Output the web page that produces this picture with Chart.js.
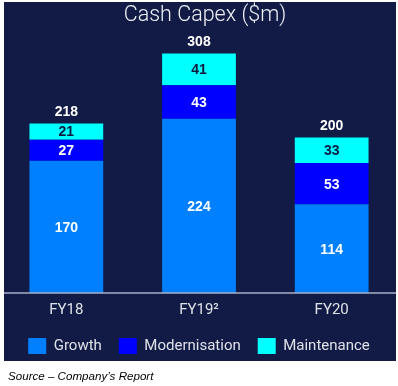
<!DOCTYPE html>
<html>
<head>
<meta charset="utf-8">
<script src="https://cdn.jsdelivr.net/npm/chart.js@4.4.1/dist/chart.umd.min.js"></script>
<style>
  html, body { margin: 0; padding: 0; background: #ffffff; }
  #wrap { position: absolute; left: 0; top: 0; width: 398px; height: 386px; }
  #source { position: absolute; left: 8px; top: 369px; font-family: "Liberation Sans", Arial, sans-serif; font-style: italic; font-size: 11.6px; color: #000; white-space: nowrap; }
</style>
</head>
<body>
<div id="wrap"><canvas id="c" width="398" height="386"></canvas></div>
<div id="source">Source – Company’s Report</div>
<script>
const categories = ["FY18", "FY19²", "FY20"];
const growth = [170, 224, 114];
const modernisation = [27, 43, 53];
const maintenance = [21, 41, 33];
const totals = [218, 308, 200];
const seriesNames = ["Growth", "Modernisation", "Maintenance"];
const titleText = "Cash Capex ($m)";

const NAVY = "#111b45";

const panelPlugin = {
  id: "panel",
  beforeDraw(chart) {
    const ctx = chart.ctx;
    ctx.save();
    ctx.fillStyle = "#ffffff";
    ctx.fillRect(0, 0, chart.width, chart.height);
    ctx.fillStyle = NAVY;
    ctx.fillRect(4, 2, 392, 359);
    ctx.fillStyle = "#eef0f6";
    ctx.font = "300 21.5px Roboto, 'Noto Sans', sans-serif";
    ctx.textAlign = "center";
    ctx.textBaseline = "middle";
    ctx.fillText(titleText, 205, 16);
    ctx.restore();
  },
  afterDatasetsDraw(chart) {
    const ctx = chart.ctx;
    const y0 = chart.scales.y.getPixelForValue(0);
    ctx.save();
    ctx.strokeStyle = "#a9b0c8";
    ctx.lineWidth = 1.5;
    ctx.beginPath();
    ctx.moveTo(4, y0);
    ctx.lineTo(396, y0);
    ctx.stroke();
    ctx.font = "bold 14px 'Liberation Sans', Arial, sans-serif";
    ctx.textAlign = "center";
    ctx.textBaseline = "middle";
    chart.data.datasets.forEach((ds, di) => {
      const meta = chart.getDatasetMeta(di);
      meta.data.forEach((el, i) => {
        const cy = (el.y + el.base) / 2;
        ctx.fillStyle = di === 2 ? "#0d1a3d" : "#ffffff";
        ctx.fillText(String(ds.data[i]), el.x, cy + 1);
      });
    });
    const topMeta = chart.getDatasetMeta(2);
    topMeta.data.forEach((el, i) => {
      ctx.fillStyle = "#ffffff";
      ctx.fillText(String(totals[i]), el.x, chart.scales.y.getPixelForValue(totals[i]) - 11);
    });
    ctx.restore();
  }
};

new Chart(document.getElementById("c"), {
  type: "bar",
  data: {
    labels: categories,
    datasets: [
      { label: seriesNames[0], data: growth, backgroundColor: "#0080ff" },
      { label: seriesNames[1], data: modernisation, backgroundColor: "#0000ff" },
      { label: seriesNames[2], data: maintenance, backgroundColor: "#00ffff" }
    ]
  },
  options: {
    responsive: false,
    animation: false,
    layout: { padding: { top: 13, bottom: 22, left: 0, right: 0 } },
    datasets: { bar: { categoryPercentage: 1.0, barPercentage: 0.556, borderWidth: 0 } },
    scales: {
      x: {
        stacked: true,
        grid: { display: false, drawTicks: false },
        border: { display: false },
        ticks: { color: "#dfe1e8", font: { size: 15, family: "Roboto, 'Noto Sans', sans-serif" }, padding: 8 },
        afterFit(scale) { scale.height -= 6; }
      },
      y: {
        stacked: true,
        display: false,
        min: 0,
        max: 360
      }
    },
    plugins: {
      legend: {
        position: "bottom",
        labels: {
          color: "#dfe1e8",
          boxWidth: 18,
          boxHeight: 16,
          padding: 17,
          font: { size: 15, family: "Roboto, 'Noto Sans', sans-serif" }
        }
      },
      title: { display: false },
      tooltip: { enabled: false }
    }
  },
  plugins: [panelPlugin]
});
</script>
</body>
</html>
